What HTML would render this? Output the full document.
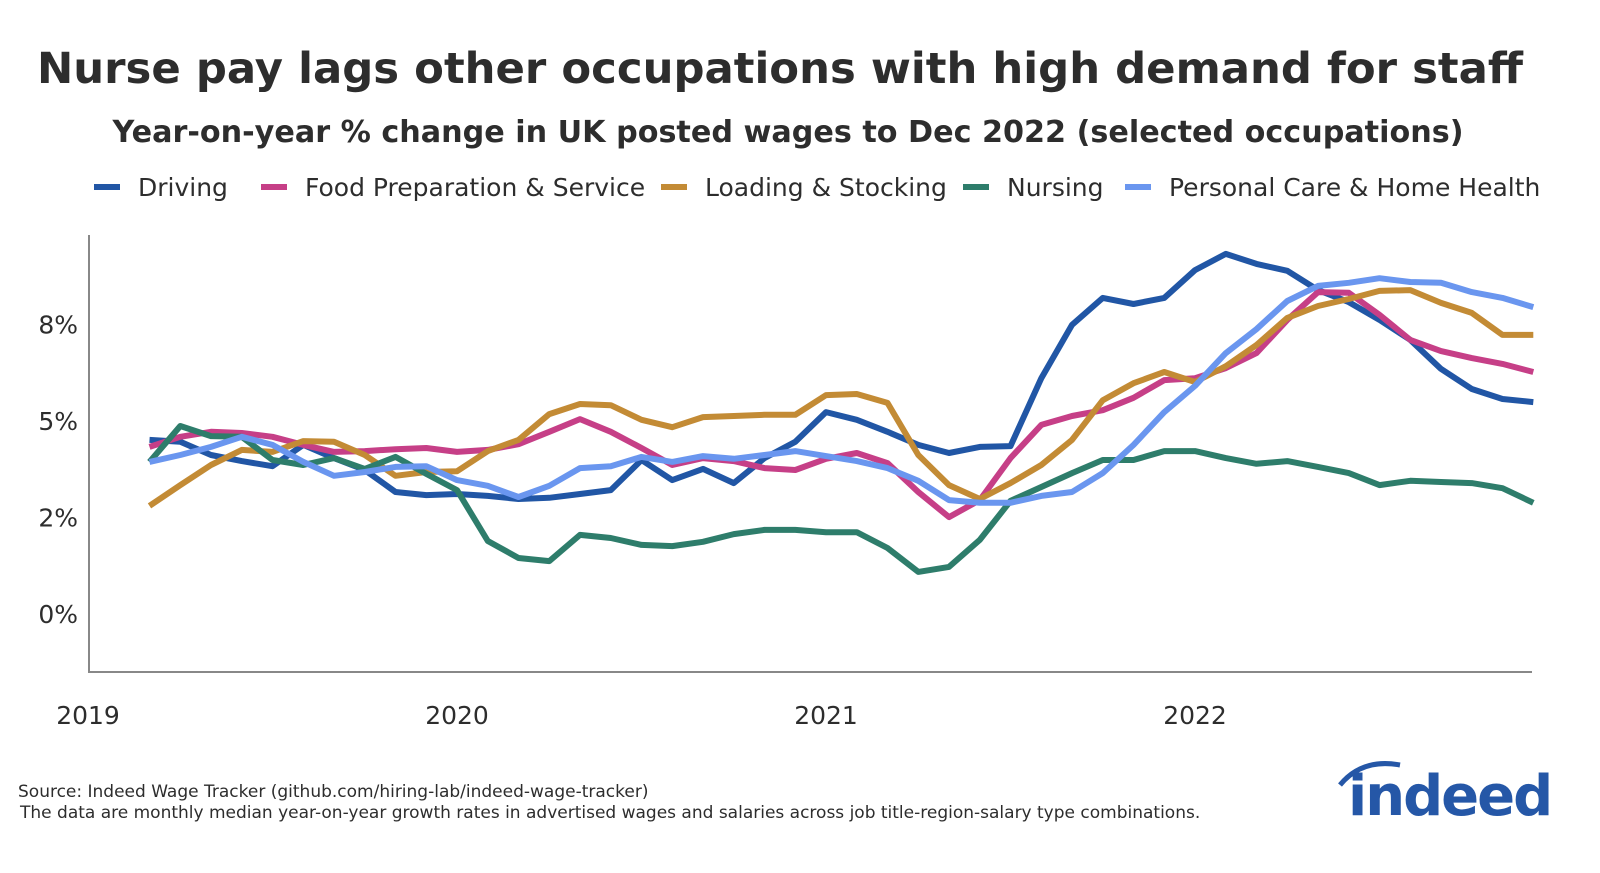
<!DOCTYPE html>
<html><head><meta charset="utf-8"><style>
html,body{margin:0;padding:0;background:#fff;overflow:hidden;width:1600px;height:873px;}
svg{display:block;}
svg text{font-family:"DejaVu Sans","Liberation Sans",sans-serif;}
</style></head><body>
<svg width="1600" height="873" viewBox="0 0 1600 873" xmlns="http://www.w3.org/2000/svg" id="chart">
<text x="780" y="83" text-anchor="middle" font-size="43" font-weight="bold" fill="#2d2d2d" textLength="1486" lengthAdjust="spacingAndGlyphs">Nurse pay lags other occupations with high demand for staff</text>
<text x="788" y="142" text-anchor="middle" font-size="30" font-weight="bold" fill="#2d2d2d" textLength="1351" lengthAdjust="spacingAndGlyphs">Year-on-year % change in UK posted wages to Dec 2022 (selected occupations)</text>
<g id="legend"></g>
<line x1="89" y1="235" x2="89" y2="672" stroke="#888" stroke-width="2"/>
<line x1="88" y1="672" x2="1532" y2="672" stroke="#888" stroke-width="2"/>
<g id="yticks"></g>
<g id="xticks"></g>
<g id="series"></g>
<text x="18" y="797" font-size="17" fill="#2d2d2d">Source: Indeed Wage Tracker (github.com/hiring-lab/indeed-wage-tracker)</text>
<text x="20" y="818" font-size="17" fill="#2d2d2d">The data are monthly median year-on-year growth rates in advertised wages and salaries across job title-region-salary type combinations.</text>
<g>
<path d="M1340 785 Q1362 758 1400 765" stroke="#2557a7" stroke-width="5" fill="none"/>
<text x="1348" y="815" font-size="56" font-weight="bold" fill="#2557a7" font-family="Liberation Sans, sans-serif" letter-spacing="-2">indeed</text>
</g>
</svg>
<script>
const months = 46; // Mar 2019 .. Dec 2022
const seriesNames = ["Driving","Food Preparation & Service","Loading & Stocking","Nursing","Personal Care & Home Health"];
const driving = [4.51,4.46,4.12,3.96,3.83,4.38,4.04,3.73,3.16,3.08,3.11,3.06,2.98,3.01,3.11,3.21,3.99,3.47,3.76,3.39,4.04,4.46,5.23,5.03,4.72,4.38,4.17,4.33,4.35,6.11,7.49,8.19,8.03,8.19,8.91,9.33,9.07,8.89,8.39,8.08,7.62,7.10,6.35,5.83,5.57,5.49];
const food = [4.33,4.59,4.72,4.69,4.59,4.38,4.20,4.22,4.27,4.30,4.20,4.25,4.40,4.72,5.05,4.72,4.30,3.86,4.04,3.96,3.78,3.73,4.02,4.17,3.91,3.16,2.51,2.95,4.04,4.90,5.13,5.28,5.60,6.06,6.11,6.37,6.76,7.62,8.34,8.32,7.75,7.10,6.81,6.63,6.48,6.27];
const loading = [2.80,3.34,3.86,4.25,4.20,4.48,4.46,4.12,3.58,3.68,3.70,4.22,4.51,5.18,5.44,5.41,5.03,4.84,5.10,5.13,5.16,5.16,5.67,5.70,5.47,4.12,3.34,2.98,3.39,3.86,4.51,5.54,5.98,6.27,6.01,6.42,6.97,7.67,7.98,8.16,8.37,8.39,8.06,7.80,7.23,7.23];
const nursing = [3.94,4.87,4.61,4.59,3.99,3.86,4.04,3.76,4.07,3.63,3.21,1.89,1.45,1.37,2.05,1.97,1.79,1.76,1.87,2.07,2.18,2.18,2.12,2.12,1.71,1.09,1.22,1.92,2.93,3.29,3.65,3.99,3.99,4.22,4.22,4.04,3.89,3.96,3.81,3.65,3.34,3.45,3.42,3.39,3.26,2.88];
const personal = [3.94,4.12,4.33,4.59,4.38,3.94,3.58,3.68,3.81,3.83,3.47,3.32,3.03,3.32,3.78,3.83,4.07,3.94,4.09,4.02,4.12,4.22,4.09,3.96,3.78,3.45,2.95,2.88,2.88,3.06,3.16,3.65,4.38,5.23,5.91,6.76,7.38,8.11,8.50,8.58,8.70,8.60,8.58,8.34,8.19,7.95];
const yTickValues = [0,2.5,5,7.5];
const yTickLabels = ["0%","2%","5%","8%"];
const xTickYears = ["2019","2020","2021","2022"];

const colors = ["#2156a5","#c63f87","#c38b35","#2e7d6b","#6a96ef"];
const allSeries = [driving,food,loading,nursing,personal];
const NS = "http://www.w3.org/2000/svg";
function xScale(m){ return 88 + m*30.75; }
function yScale(v){ return 614 - v*38.6; }

const yt = document.getElementById('yticks');
yTickValues.forEach((v,i)=>{
  const t = document.createElementNS(NS,'text');
  t.setAttribute('x',78); t.setAttribute('y',yScale(v)+9);
  t.setAttribute('text-anchor','end'); t.setAttribute('font-size','25'); t.setAttribute('fill','#2d2d2d');
  t.textContent = yTickLabels[i];
  
  
  yt.appendChild(t);
});
const xt = document.getElementById('xticks');
xTickYears.forEach((y,i)=>{
  const t = document.createElementNS(NS,'text');
  t.setAttribute('x',xScale(i*12)); t.setAttribute('y',724);
  t.setAttribute('text-anchor','middle'); t.setAttribute('font-size','25'); t.setAttribute('fill','#2d2d2d');
  t.textContent = y;
  
  
  xt.appendChild(t);
});
const sg = document.getElementById('series');
allSeries.forEach((s,k)=>{
  const pts = s.map((v,i)=>xScale(i+2).toFixed(1)+','+yScale(v).toFixed(1)).join(' ');
  const p = document.createElementNS(NS,'polyline');
  p.setAttribute('points',pts); p.setAttribute('fill','none');
  p.setAttribute('stroke',colors[k]); p.setAttribute('stroke-width','6');
  p.setAttribute('stroke-linejoin','round');
  
  
  sg.appendChild(p);
});
const lg = document.getElementById('legend');
const legX = [94,261,661,963,1125];
seriesNames.forEach((n,k)=>{
  const r = document.createElementNS(NS,'rect');
  r.setAttribute('x',legX[k]); r.setAttribute('y',184); r.setAttribute('width',26); r.setAttribute('height',6);
  r.setAttribute('fill',colors[k]);
  
  
  lg.appendChild(r);
  const t = document.createElementNS(NS,'text');
  t.setAttribute('x',legX[k]+44); t.setAttribute('y',196);
  t.setAttribute('font-size','25'); t.setAttribute('fill','#2d2d2d');
  t.textContent = n;
  
  
  lg.appendChild(t);
});
</script>
</body></html>
